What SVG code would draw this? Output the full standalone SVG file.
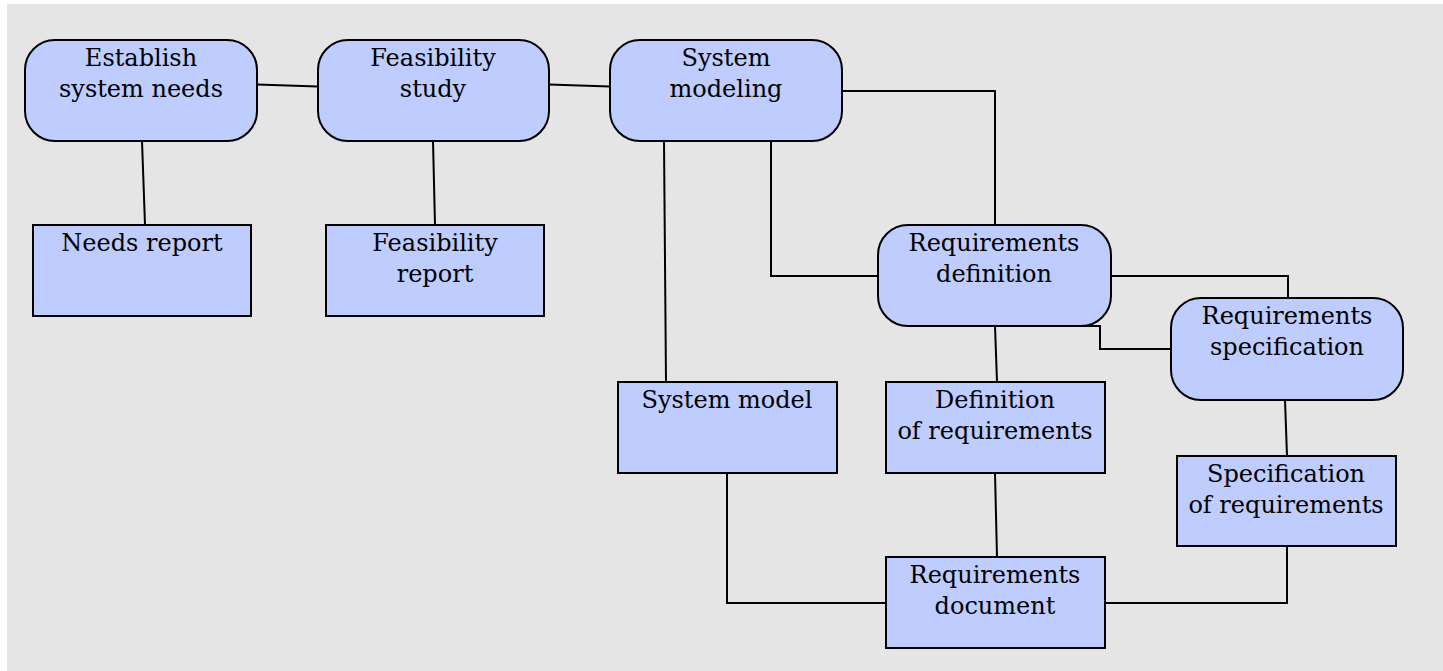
<svg xmlns="http://www.w3.org/2000/svg" width="1443" height="671" viewBox="0 0 1443 671">
<style>
.bg{fill:#e5e5e5}
.n{fill:#bfccfe;stroke:#000;stroke-width:2}
.c{fill:none;stroke:#000;stroke-width:2}
text{font-family:"DejaVu Serif","Liberation Serif",serif;font-size:24px;fill:#000;text-anchor:middle}
</style>
<rect class="bg" x="7" y="4" width="1436" height="667"/>
<g id="connectors">
<path class="c" d="M257,84.5 L318,86.5"/>
<path class="c" d="M549,84.5 L610,86.5"/>
<path class="c" d="M142,141 L145,225"/>
<path class="c" d="M433,141 L435,225"/>
<path class="c" d="M842,91 H995 V225"/>
<path class="c" d="M771,141 V276 H878"/>
<path class="c" d="M664,141 L666,382"/>
<path class="c" d="M1111,276 H1288 V298"/>
<path class="c" d="M1031,326 H1100 V349 H1171"/>
<path class="c" d="M995,326 L997,382"/>
<path class="c" d="M1285,400 L1287,456"/>
<path class="c" d="M727,473 V603 H886"/>
<path class="c" d="M995,473 L997,557"/>
<path class="c" d="M1287,546 V603 H1105"/>
</g>
<g id="establish">
<rect class="n" x="25" y="40" width="232" height="101" rx="30"/>
<text x="141" y="66">Establish</text><text x="141" y="97">system needs</text>
</g>
<g id="feasibility-study">
<rect class="n" x="318" y="40" width="231" height="101" rx="30"/>
<text x="433" y="66">Feasibility</text><text x="433" y="97">study</text>
</g>
<g id="system-modeling">
<rect class="n" x="610" y="40" width="232" height="101" rx="30"/>
<text x="726" y="66">System</text><text x="726" y="97">modeling</text>
</g>
<g id="needs-report">
<rect class="n" x="33" y="225" width="218" height="91"/>
<text x="142" y="251">Needs report</text>
</g>
<g id="feasibility-report">
<rect class="n" x="326" y="225" width="218" height="91"/>
<text x="435" y="251">Feasibility</text><text x="435" y="282">report</text>
</g>
<g id="requirements-definition">
<rect class="n" x="878" y="225" width="233" height="101" rx="30"/>
<text x="994" y="251">Requirements</text><text x="994" y="282">definition</text>
</g>
<g id="requirements-specification">
<rect class="n" x="1171" y="298" width="232" height="102" rx="30"/>
<text x="1287" y="324">Requirements</text><text x="1287" y="355">specification</text>
</g>
<g id="system-model">
<rect class="n" x="618" y="382" width="219" height="91"/>
<text x="727" y="408">System model</text>
</g>
<g id="definition-of-requirements">
<rect class="n" x="886" y="382" width="219" height="91"/>
<text x="995" y="408">Definition</text><text x="995" y="439">of requirements</text>
</g>
<g id="specification-of-requirements">
<rect class="n" x="1177" y="456" width="219" height="90"/>
<text x="1286" y="482">Specification</text><text x="1286" y="513">of requirements</text>
</g>
<g id="requirements-document">
<rect class="n" x="886" y="557" width="219" height="91"/>
<text x="995" y="583">Requirements</text><text x="995" y="614">document</text>
</g>
</svg>
